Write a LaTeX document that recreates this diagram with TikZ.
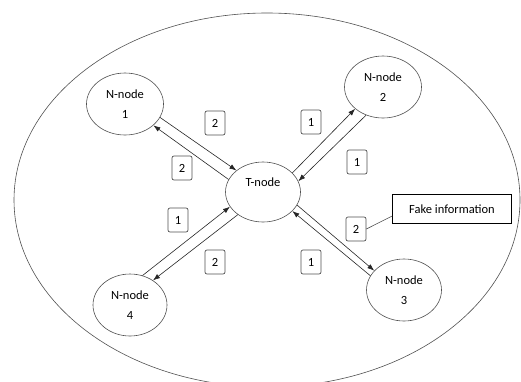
\documentclass[tikz,border=0pt]{standalone}
\usepackage{fontspec}
\setmainfont{Carlito}
\usetikzlibrary{arrows.meta,shapes.geometric}
\definecolor{EdgeGray}{RGB}{80,80,80}

\begin{document}
\begin{tikzpicture}[x=1pt, y=-1pt, >={Latex[length=7pt,width=5pt]},
  every node/.style={font=\fontsize{12.5}{20}\selectfont},
  nnode/.style={ellipse, draw=EdgeGray, line width=0.6pt, minimum width=77pt, minimum height=62pt, inner sep=0pt, align=center},
  msg/.style={draw=EdgeGray, line width=0.7pt, rounded corners=2pt, minimum width=20pt, minimum height=24pt, inner sep=0pt},
  link/.style={->, black!85, line width=0.6pt}]
\clip (0,0) rectangle (521,381);

% network boundary
\draw[EdgeGray, line width=0.6pt] (267,200) ellipse [x radius=253, y radius=187];

% T-node
\node[nnode, minimum width=75pt, minimum height=60pt, text height=7pt, text depth=18pt] (t) at (263,192) {T-node};

% N-nodes
\node[nnode] (n1) at (125,104) {N-node\\1};
\node[nnode] (n2) at (383,87) {N-node\\2};
\node[nnode, minimum width=75pt] (n3) at (404,290) {N-node\\3};
\node[nnode, minimum width=74pt] (n4) at (130,305) {N-node\\4};

% links
\draw[link] (n1.-21) -- (t.141);
\draw[link] (t.160) -- (n1.-37);
\draw[link] (t.33) -- (n2.-142);
\draw[link] (n2.-121) -- (t.17);
\draw[link] (t.-21) -- (n3.147);
\draw[link] (n3.157) -- (t.-33);
\draw[link] (n4.67) -- (t.-156);
\draw[link] (t.-138) -- (n4.47);

% message numbers
\node[msg] (m1) at (215,123) {2};
\node[msg] (m2) at (182,168) {2};
\node[msg] (m3) at (311,122) {1};
\node[msg] (m4) at (357,162) {1};
\node[msg] (m5) at (178,220) {1};
\node[msg] (m6) at (215,262) {2};
\node[msg] (m7) at (311,262) {1};
\node[msg] (m8) at (356,229) {2};

% fake information
\node[draw, line width=0.7pt, minimum width=119pt, minimum height=29pt, inner sep=0pt] (fake) at (452,209) {Fake information};
\draw[EdgeGray, line width=0.6pt] (fake.west |- 0,216) -- (m8.east);
\end{tikzpicture}
\end{document}
